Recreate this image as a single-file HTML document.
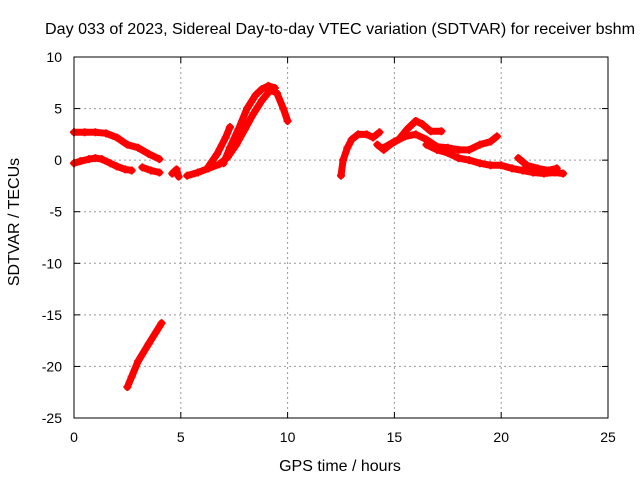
<!DOCTYPE html>
<html><head><meta charset="utf-8"><style>
body{margin:0;background:#fff}
svg text{font-family:"Liberation Sans",sans-serif;font-size:14px;fill:#000}
</style></head><body>
<svg id="c" width="640" height="480">
<rect width="640" height="480" fill="#fff"/>
<text x="340" y="34" text-anchor="middle" style="font-size:16px" textLength="590" lengthAdjust="spacingAndGlyphs">Day 033 of 2023, Sidereal Day-to-day VTEC variation (SDTVAR) for receiver bshm</text>
<text x="340" y="471" text-anchor="middle" style="font-size:16px">GPS time / hours</text>
<text transform="translate(19,222) rotate(-90)" text-anchor="middle" style="font-size:16px">SDTVAR / TECUs</text>
<g id="grid"></g><g id="data"></g>
<rect x="74" y="57" width="534" height="361" fill="none" stroke="#000"/>
</svg>
<script>
const xTicks=[0,5,10,15,20,25];
const yTicks=[10,5,0,-5,-10,-15,-20,-25];
const track1=[[0,2.7],[0.5,2.7],[1,2.7],[1.5,2.6],[2,2.2],[2.5,1.5],[3,1.2],[3.5,0.6],[4,0.1]];
const track2=[[0,-0.3],[0.3,-0.1],[0.7,0.1],[1,0.2],[1.3,0.1],[1.7,-0.3],[2,-0.6],[2.4,-0.9],[2.7,-1.0]];
const track3=[[3.2,-0.7],[3.6,-1.0],[4,-1.2]];
const track3b=[[4.6,-1.3],[4.8,-0.9],[4.9,-1.6]];
const track4=[[2.5,-22],[2.7,-21],[3,-19.5],[3.5,-17.8],[4.1,-15.8]];
const track5=[[5.3,-1.5],[5.8,-1.2],[6.3,-0.8],[6.8,-0.4],[7.2,0.3],[7.6,1.5],[8,3],[8.4,4.5],[8.8,5.8],[9.2,6.8],[9.5,6.5],[9.8,5],[10,3.8]];
const track5b=[[6.3,-0.6],[6.7,0.6],[7.1,2.2],[7.3,3.2]];
const track5c=[[7.0,-0.3],[7.3,1.2],[7.7,3.0],[8.1,5.0],[8.5,6.3],[8.8,6.9],[9.1,7.2],[9.4,7.0]];
const track6=[[12.5,-1.5],[12.6,0],[12.8,1.2],[13,2],[13.3,2.5],[13.7,2.5],[14,2.2],[14.3,2.7]];
const track7=[[14.2,1.5],[14.5,1.0],[14.8,1.5],[15.2,2.0],[15.6,3.0],[16,3.8],[16.3,3.5],[16.7,2.8],[17.2,2.8]];
const track8=[[14.5,1.2],[15,1.8],[15.5,2.3],[16,2.5],[16.5,2.0],[17,1.3],[17.5,1.2],[18,1.0],[18.5,1.0],[19,1.5],[19.5,1.8],[19.8,2.3]];
const track9=[[16.5,1.5],[17,1.0],[17.5,0.7],[18,0.2],[18.5,0],[19,-0.3],[19.5,-0.5],[20,-0.5],[20.5,-0.8],[21,-1.0],[21.5,-1.2],[22,-1.3],[22.5,-1.2],[22.9,-1.3]];
const track10=[[20.8,0.2],[21.2,-0.5],[21.7,-0.8],[22.2,-1.0],[22.6,-0.8]];
const tracks=[track1,track2,track3,track3b,track4,track5,track5b,track5c,track6,track7,track8,track9,track10];
const NS="http://www.w3.org/2000/svg";
const X0=74,X1=608,Y0=418,Y1=57,xmin=0,xmax=25,ymin=-25,ymax=10;
const sx=v=>X0+(v-xmin)/(xmax-xmin)*(X1-X0);
const sy=v=>Y0-(v-ymin)/(ymax-ymin)*(Y0-Y1);
function mk(tag,attrs,parent){const e=document.createElementNS(NS,tag);for(const k in attrs)e.setAttribute(k,attrs[k]);parent.appendChild(e);return e;}
const g=document.getElementById('grid'),d=document.getElementById('data');
xTicks.forEach(t=>{const x=sx(t);
 if(t>xmin&&t<xmax){const l=mk('line',{x1:x,x2:x,y1:Y1,y2:Y0,stroke:'#999','stroke-dasharray':'2,3'},g);
 
 }
 const tx=mk('text',{x:x,y:Y0+24,'text-anchor':'middle'},g);tx.textContent=t;
 
 
 mk('line',{x1:x,x2:x,y1:Y0,y2:Y0-6,stroke:'#000'},g);mk('line',{x1:x,x2:x,y1:Y1,y2:Y1+6,stroke:'#000'},g);});
yTicks.forEach(t=>{const y=sy(t);
 if(t>ymin&&t<ymax){const l=mk('line',{x1:X0,x2:X1,y1:y,y2:y,stroke:'#999','stroke-dasharray':'2,3'},g);
 
 }
 const tx=mk('text',{x:X0-12,y:y+5,'text-anchor':'end'},g);tx.textContent=t;
 
 
 mk('line',{x1:X0,x2:X0+6,y1:y,y2:y,stroke:'#000'},g);mk('line',{x1:X1,x2:X1-6,y1:y,y2:y,stroke:'#000'},g);});
tracks.forEach((tr,i)=>{
 const pl=mk('polyline',{points:tr.map(p=>sx(p[0])+','+sy(p[1])).join(' '),fill:'none',stroke:'#f00','stroke-width':7,'stroke-linejoin':'round','stroke-linecap':'round'},d);
 
 
 tr.forEach(p=>{const x=sx(p[0]),y=sy(p[1]);
  const m=mk('path',{d:`M${x-4},${y}H${x+4}M${x},${y-4}V${y+4}`,stroke:'#f00','stroke-width':2},d);
  
  });
});
</script>
</body></html>
